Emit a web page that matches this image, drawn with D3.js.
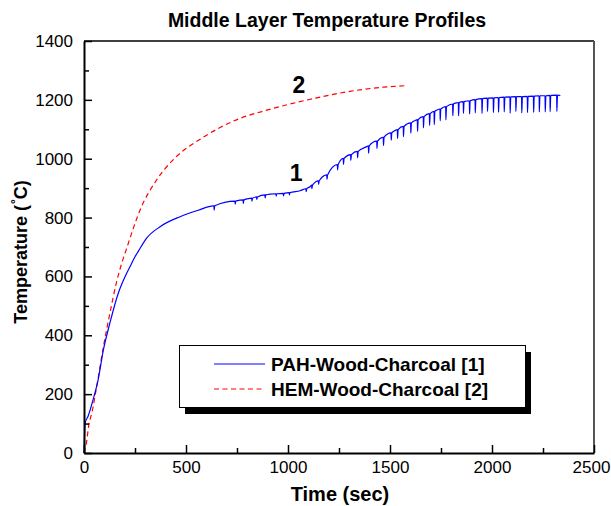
<!DOCTYPE html>
<html>
<head>
<meta charset="utf-8">
<script src="https://cdn.jsdelivr.net/npm/d3@7"></script>
<style>
  body { margin: 0; background: #fff; }
  svg { font-family: "Liberation Sans", Arial, sans-serif; }
</style>
</head>
<body>
<div class="temp-profiles"></div>
<script>
// values
const xTicks = [0, 500, 1000, 1500, 2000, 2500];
const xMinorTicks = [250, 750, 1250, 1750, 2250];
const yTicks = [0, 200, 400, 600, 800, 1000, 1200, 1400];
const yMinorTicks = [100, 300, 500, 700, 900, 1100, 1300];

// PAH-Wood-Charcoal [1] smooth trace
const pahTime = [0, 6, 20, 46, 69, 95, 127, 168, 201, 234, 250, 266, 307, 373, 471, 560, 634, 748, 814, 912, 977,
  1059, 1108, 1190, 1271, 1386, 1516, 1631, 1729, 1827, 1957, 2121, 2325, 2335];
const pahTemp = [0, 102, 125, 185, 248, 350, 442, 543, 599, 645, 667, 685, 730, 769, 803, 825, 840, 857, 865, 880, 882,
  891, 905, 945, 1001, 1041, 1092, 1132, 1165, 1190, 1205, 1211, 1216, 1214];
// sharp downward dips on the PAH trace
const pahDipTime = [637, 740, 780, 822, 846, 887, 941, 977, 1006, 1088, 1116, 1149, 1190, 1242, 1271, 1307, 1340,
  1394, 1435, 1467, 1505, 1536, 1565, 1601, 1634, 1663, 1693, 1716, 1745, 1773, 1807, 1835, 1859, 1889, 1917,
  1950, 1977, 2006, 2031, 2059, 2088, 2116, 2145, 2173, 2203, 2231, 2260, 2284, 2317];
const pahDipTop = [840, 856, 860, 866, 870, 877, 881, 882, 885, 898, 910, 925, 945, 980, 1001, 1014, 1025,
  1044, 1060, 1073, 1088, 1099, 1110, 1122, 1133, 1143, 1153, 1161, 1169, 1177, 1186, 1191, 1194, 1197, 1201,
  1204, 1206, 1207, 1208, 1209, 1210, 1211, 1211, 1212, 1213, 1214, 1214, 1215, 1216];
const pahDipDepth = [15, 10, 12, 10, 8, 10, 8, 8, 8, 10, 12, 12, 15, 18, 20, 20, 22,
  25, 25, 28, 25, 30, 35, 35, 40, 38, 40, 45, 40, 45, 40, 45, 40, 45, 45,
  50, 45, 50, 50, 50, 55, 50, 55, 55, 55, 55, 55, 55, 55];

// HEM-Wood-Charcoal [2]
const hemTime = [0, 10, 25, 38, 62, 95, 127, 160, 185, 209, 217, 275, 356, 454, 585, 667, 765, 896, 977, 1141, 1304, 1467, 1570];
const hemTemp = [0, 27, 100, 135, 225, 361, 475, 582, 645, 695, 712, 826, 928, 1008, 1073, 1106, 1137, 1165, 1180, 1207, 1229, 1243, 1248];

const seriesNames = ['PAH-Wood-Charcoal [1]', 'HEM-Wood-Charcoal [2]'];
const curveLabels = [{text: '1', t: 1040, temp: 924}, {text: '2', t: 1053, temp: 1223}];

const width = 611, height = 506;
const plotLeft = 84, plotRight = 594, plotTop = 41, plotBottom = 453;

let svg = d3.select('.temp-profiles')
  .append('svg')
  .attr('width', width)
  .attr('height', height);

let x = d3.scaleLinear().domain([0, 2500]).range([plotLeft, plotRight]);
let y = d3.scaleLinear().domain([0, 1400]).range([plotBottom, plotTop]);

// build PAH points: smooth trace plus the dips
let pahPts = pahTime.map((t, i) => [t, pahTemp[i]]);
pahDipTime.forEach((t, i) => {
  pahPts.push([t, pahDipTop[i]]);
  pahPts.push([t + 1, pahDipTop[i] - pahDipDepth[i]]);
  pahPts.push([t + 4, pahDipTop[i]]);
});
pahPts.sort((a, b) => a[0] - b[0]);
let hemPts = hemTime.map((t, i) => [t, hemTemp[i]]);

let line = d3.line()
  .x(d => x(d[0]))
  .y(d => y(d[1]))
  .curve(d3.curveMonotoneX);

svg.append('path')
  .datum(hemPts)
  .attr('fill', 'none')
  .attr('stroke', '#ff0000')
  .attr('stroke-width', 1.2)
  .attr('stroke-dasharray', '5,3.5')
  .attr('d', line);

svg.append('path')
  .datum(pahPts)
  .attr('fill', 'none')
  .attr('stroke', '#0000ff')
  .attr('stroke-width', 1.2)
  .attr('d', line);

// frame top + right
svg.append('line')
  .attr('x1', plotLeft).attr('x2', plotRight).attr('y1', plotTop).attr('y2', plotTop)
  .attr('stroke', '#000').attr('stroke-width', 1.5);
svg.append('line')
  .attr('x1', plotRight).attr('x2', plotRight).attr('y1', plotTop).attr('y2', plotBottom)
  .attr('stroke', '#555').attr('stroke-width', 2);

// axes, ticks pointing inward
let xAxis = svg.append('g')
  .attr('transform', `translate(0, ${plotBottom})`)
  .call(d3.axisBottom(x).tickValues(xTicks).tickSize(-8).tickSizeOuter(0).tickPadding(8).tickFormat(d3.format('d')));
svg.append('g')
  .attr('transform', `translate(0, ${plotBottom})`)
  .call(d3.axisBottom(x).tickValues(xMinorTicks).tickSize(-5).tickFormat(''))
  .select('.domain').remove();
svg.append('g')
  .attr('transform', `translate(${plotLeft}, 0)`)
  .call(d3.axisLeft(y).tickValues(yTicks).tickSize(-8).tickSizeOuter(0).tickPadding(11).tickFormat(d3.format('d')));
svg.append('g')
  .attr('transform', `translate(${plotLeft}, 0)`)
  .call(d3.axisLeft(y).tickValues(yMinorTicks).tickSize(-5).tickFormat(''))
  .select('.domain').remove();

svg.selectAll('.domain').attr('stroke', '#000').attr('stroke-width', 2);
svg.selectAll('.tick line').attr('stroke', '#000').attr('stroke-width', 1.5);
svg.selectAll('.tick text')
  .attr('font-family', '"Liberation Sans", Arial, sans-serif')
  .attr('font-size', 17)
  .attr('fill', '#000');
// last x label sits right against the page edge
xAxis.selectAll('.tick text').filter(d => d === 2500).attr('dx', -3);

// titles
svg.append('text')
  .attr('x', 327).attr('y', 27)
  .attr('text-anchor', 'middle')
  .attr('font-weight', 'bold').attr('font-size', 19.5)
  .text('Middle Layer Temperature Profiles');
svg.append('text')
  .attr('x', 340).attr('y', 501)
  .attr('text-anchor', 'middle')
  .attr('font-weight', 'bold').attr('font-size', 20)
  .text('Time (sec)');
let yTitle = svg.append('text')
  .attr('transform', 'translate(27, 252) rotate(-90)')
  .attr('text-anchor', 'middle')
  .attr('font-weight', 'bold').attr('font-size', 18);
yTitle.append('tspan').text('Temperature (');
yTitle.append('tspan').attr('font-size', 12).attr('dy', -7).attr('dx', 1).text('°');
yTitle.append('tspan').attr('dy', 7).text('C)');

// curve labels
svg.selectAll('.curve-label')
  .data(curveLabels)
  .join('text')
  .attr('class', 'curve-label')
  .attr('x', d => x(d.t)).attr('y', d => y(d.temp))
  .attr('text-anchor', 'middle')
  .attr('font-weight', 'bold').attr('font-size', 23)
  .text(d => d.text);

// legend box with drop shadow
let lg = svg.append('g');
lg.append('rect')
  .attr('x', 185).attr('y', 352).attr('width', 346).attr('height', 62)
  .attr('fill', '#000');
lg.append('rect')
  .attr('x', 179.5).attr('y', 345.5).attr('width', 346).attr('height', 62)
  .attr('fill', '#fff').attr('stroke', '#000').attr('stroke-width', 1);
let legendRows = [
  {name: seriesNames[0], color: '#0000ff', dash: null},
  {name: seriesNames[1], color: '#ff0000', dash: '5,3.5'}
];
legendRows.forEach((r, i) => {
  let yy = 364 + i * 25;
  lg.append('line')
    .attr('x1', 214).attr('x2', 265).attr('y1', yy).attr('y2', yy)
    .attr('stroke', r.color).attr('stroke-width', 1.2)
    .attr('stroke-dasharray', r.dash);
  lg.append('text')
    .attr('x', 271).attr('y', yy + 7)
    .attr('font-weight', 'bold').attr('font-size', 19)
    .text(r.name);
});
</script>
</body>
</html>
